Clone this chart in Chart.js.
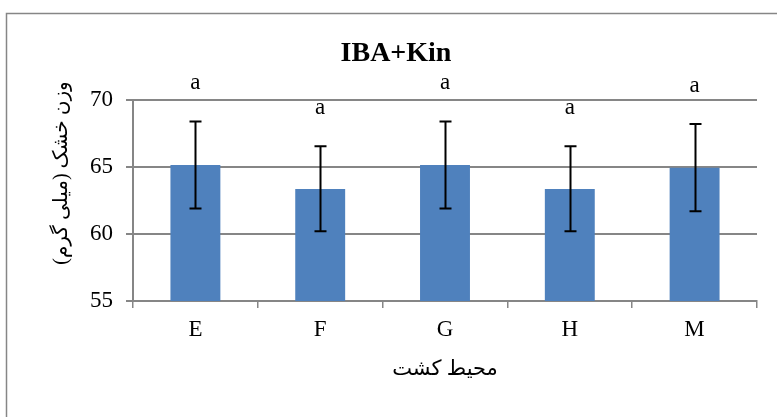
<!DOCTYPE html>
<html>
<head>
<meta charset="utf-8">
<script src="https://cdn.jsdelivr.net/npm/chart.js@4"></script>
<style>
    html, body { margin: 0; padding: 0; background: #ffffff; }
    #wrap { width: 777px; height: 417px; }
</style>
</head>
<body>
<div id="wrap"><canvas id="dryWeightChart" width="777" height="417"></canvas></div>
<script>
// Data
const categories = ['E', 'F', 'G', 'H', 'M'];
const meanValues = [65.15, 63.35, 65.15, 63.35, 64.95];
const errorTop = [68.4, 66.55, 68.4, 66.55, 68.2];
const errorBottom = [61.9, 60.2, 61.9, 60.2, 61.7];
const groupLetters = ['a', 'a', 'a', 'a', 'a'];
const yTickValues = [55, 60, 65, 70];

const chartTitle = 'IBA+Kin';
const xAxisTitle = 'محیط کشت';
const yAxisTitle = 'وزن خشک (میلی گرم)';

const SERIF = '"Liberation Serif", "DejaVu Sans", serif';
const GRID = '#868686';

// Draws error bars, letters, titles and the outer frame
const annotations = {
    id: 'annotations',
    afterDatasetsDraw(chart) {
        const ctx = chart.ctx;
        const y = chart.scales.y;
        const meta = chart.getDatasetMeta(0);
        ctx.save();
        ctx.strokeStyle = '#000000';
        ctx.lineWidth = 2;
        meta.data.forEach((bar, i) => {
            const x = Math.round(bar.x) + 0.5;
            const top = y.getPixelForValue(errorTop[i]);
            const bot = y.getPixelForValue(errorBottom[i]);
            ctx.beginPath();
            ctx.moveTo(x, top);
            ctx.lineTo(x, bot);
            ctx.moveTo(x - 6, top);
            ctx.lineTo(x + 6, top);
            ctx.moveTo(x - 6, bot);
            ctx.lineTo(x + 6, bot);
            ctx.stroke();

            ctx.fillStyle = '#000000';
            ctx.font = '23px ' + SERIF;
            ctx.textAlign = 'center';
            ctx.textBaseline = 'middle';
            ctx.fillText(groupLetters[i], bar.x, top - 38);
        });
        ctx.restore();
    },
    afterDraw(chart) {
        const ctx = chart.ctx;
        const area = chart.chartArea;
        ctx.save();
        // outer frame
        ctx.strokeStyle = GRID;
        ctx.lineWidth = 1.5;
        ctx.strokeRect(6.5, 13.5, 900, 600);

        ctx.fillStyle = '#000000';
        ctx.textAlign = 'center';
        ctx.textBaseline = 'alphabetic';
        ctx.font = 'bold 28px ' + SERIF;
        ctx.fillText(chartTitle, 396, 61);

        ctx.direction = 'rtl';
        ctx.textBaseline = 'middle';
        ctx.font = '21px ' + SERIF;
        ctx.fillText(xAxisTitle, (area.left + area.right) / 2, 369);

        ctx.font = '20px ' + SERIF;
        ctx.translate(62, 173);
        ctx.rotate(-Math.PI / 2);
        ctx.fillText(yAxisTitle, 0, 0);
        ctx.restore();
    }
};

new Chart(document.getElementById('dryWeightChart'), {
    type: 'bar',
    data: {
        labels: categories,
        datasets: [{
            label: 'وزن خشک',
            data: meanValues,
            backgroundColor: '#4F81BD',
            borderWidth: 0,
            categoryPercentage: 1,
            barPercentage: 0.4
        }]
    },
    options: {
        responsive: false,
        devicePixelRatio: 1,
        animation: false,
        layout: {
            padding: { top: 100, right: 20, left: 0, bottom: 0 }
        },
        plugins: {
            legend: { display: false },
            title: { display: false },
            tooltip: { enabled: false }
        },
        scales: {
            x: {
                afterFit(scale) { scale.height = 116; },
                grid: {
                    offset: true,
                    drawOnChartArea: false,
                    drawTicks: true,
                    tickLength: 7,
                    color: GRID,
                    lineWidth: 1.5
                },
                border: { color: GRID, width: 2 },
                ticks: {
                    color: '#000000',
                    padding: 8,
                    font: { family: SERIF, size: 23 }
                }
            },
            y: {
                min: 55,
                max: 70,
                afterFit(scale) { scale.width = 133; },
                afterBuildTicks(scale) {
                    scale.ticks = yTickValues.map(v => ({ value: v }));
                },
                grid: {
                    color: GRID,
                    lineWidth: 2,
                    tickLength: 7
                },
                border: { color: GRID, width: 2 },
                ticks: {
                    color: '#000000',
                    padding: 13,
                    font: { family: SERIF, size: 23 }
                }
            }
        }
    },
    plugins: [annotations]
});
</script>
</body>
</html>
